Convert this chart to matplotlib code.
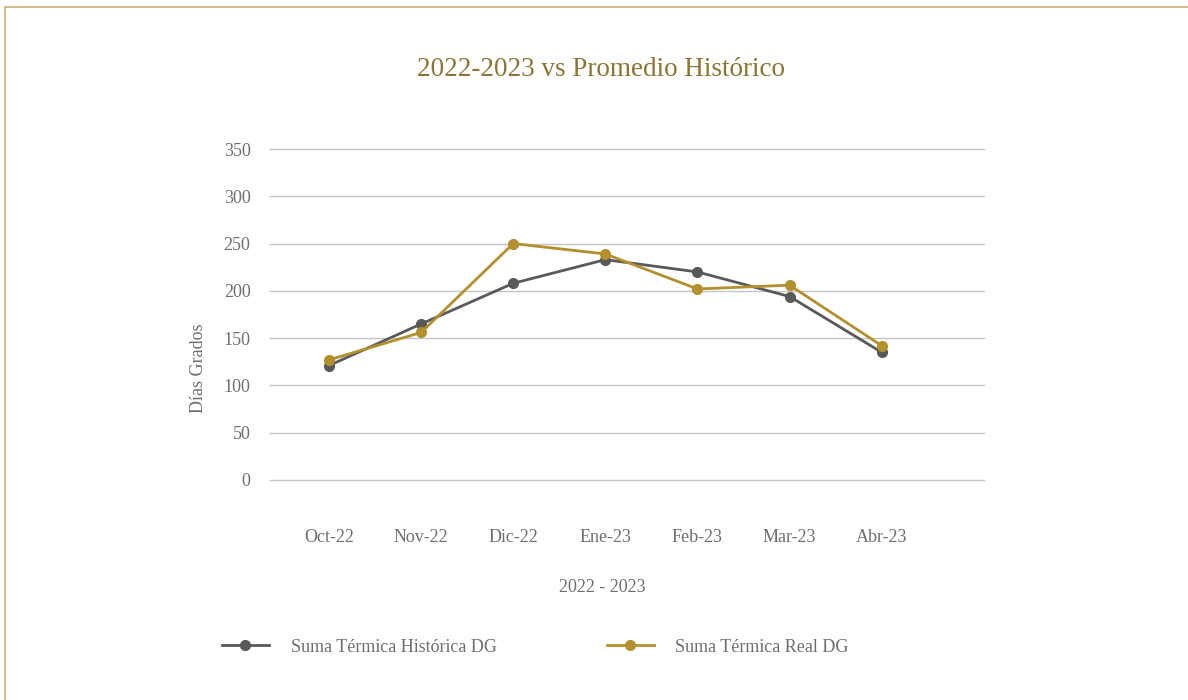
import matplotlib

matplotlib.use("Agg")
import matplotlib.pyplot as plt
from matplotlib.lines import Line2D

plt.rcParams["font.family"] = ["Liberation Serif", "DejaVu Serif"]

# ── Data ───────────────────────────────────────────────────────────────

months = ["Oct-22", "Nov-22", "Dic-22", "Ene-23", "Feb-23", "Mar-23", "Abr-23"]
historica = [121, 165, 208, 233, 220, 194, 135]
real = [127, 156, 250, 239, 202, 206, 142]
y_ticks = [0, 50, 100, 150, 200, 250, 300, 350]

# ── Style ──────────────────────────────────────────────────────────────

GRAY = "#595959"
GOLD = "#B38F2D"
TITLE_GOLD = "#8C7434"
TEXT = "#6E6E6E"
GRID = "#C4C4C4"
BORDER = "#CDB07A"

fig = plt.figure(figsize=(11.88, 7.0), dpi=100)
fig.patch.set_facecolor("white")

# frame lines (top and left)
fig.add_artist(Line2D([5 / 1188, 1], [1 - 7 / 700, 1 - 7 / 700],
                      transform=fig.transFigure, color=BORDER, lw=1.2))
fig.add_artist(Line2D([5 / 1188, 5 / 1188], [0, 1 - 7 / 700],
                      transform=fig.transFigure, color=BORDER, lw=1.2))

ax = fig.add_axes([270 / 1188, 1 - 480 / 700, 714 / 1188, 331 / 700])
ax.set_facecolor("none")

x = list(range(len(months)))
ax.plot(x, historica, color=GRAY, lw=2.0, marker="o", ms=7,
        label="Suma Térmica Histórica DG", zorder=3)
ax.plot(x, real, color=GOLD, lw=2.0, marker="o", ms=7,
        label="Suma Térmica Real DG", zorder=4)

ax.set_xlim(-0.64, 7.11)
ax.set_ylim(0, 350)
ax.set_yticks(y_ticks)
ax.set_xticks(x)
ax.set_xticklabels(months)
ax.grid(axis="y", color=GRID, lw=1.0)
for gl in ax.get_ygridlines():
    gl.set_clip_on(False)
ax.set_axisbelow(True)
for s in ax.spines.values():
    s.set_visible(False)
ax.tick_params(length=0, labelsize=13, labelcolor=TEXT)
ax.tick_params(axis="y", pad=14)
ax.tick_params(axis="x", pad=35)

ax.set_ylabel("Días Grados", fontsize=13, color=TEXT)
ax.yaxis.set_label_coords(-0.088, 0.338)
ax.set_xlabel("2022 - 2023", fontsize=13, color=TEXT)
ax.xaxis.set_label_coords(0.466, -0.30)

fig.text(601 / 1188, 1 - 70 / 700, "2022-2023 vs Promedio Histórico",
         ha="center", va="center", fontsize=19.5, color=TITLE_GOLD)

fig.legend(loc="center left", bbox_to_anchor=(222 / 1188, 1 - 647 / 700),
           ncol=2, frameon=False, fontsize=13, labelcolor=TEXT,
           handlelength=2.6, handletextpad=1.2, columnspacing=6.1,
           borderpad=0, borderaxespad=0)

fig.savefig("out.png", dpi=100, facecolor=fig.get_facecolor())
